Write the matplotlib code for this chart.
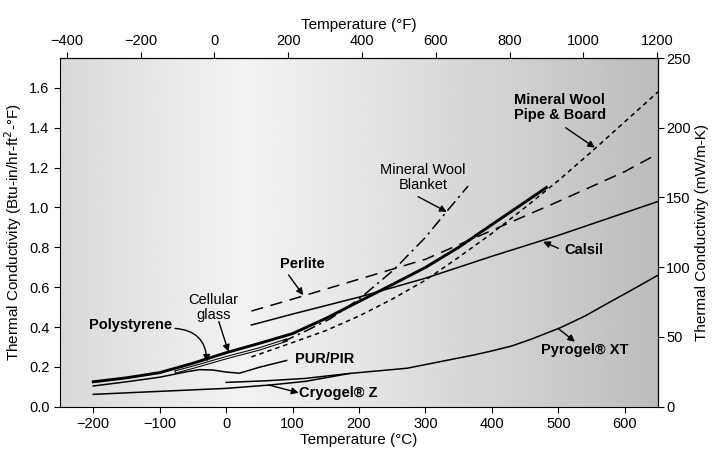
import numpy as np
import matplotlib.pyplot as plt

plt.rcParams['font.family'] = ['Liberation Sans', 'DejaVu Sans']

# temperatures in deg C, conductivity in Btu-in/hr-ft2-F
t_cellular = [-200, -150, -100, -50, 0, 50, 100, 150, 200, 250, 300, 350, 400, 450, 482]
k_cellular = [0.125, 0.145, 0.171, 0.218, 0.271, 0.318, 0.367, 0.443, 0.528, 0.613, 0.699, 0.80, 0.914, 1.027, 1.10]

t_polystyrene = [-75, -50, -25, 0, 25, 50, 90]
k_polystyrene = [0.176, 0.198, 0.222, 0.246, 0.268, 0.29, 0.333]

t_pur = [-200, -150, -100, -60, -40, -20, 0, 20, 50, 91]
k_pur = [0.104, 0.125, 0.148, 0.175, 0.186, 0.184, 0.174, 0.168, 0.198, 0.232]

t_cryogel = [-200, -114, 0, 66, 119, 186]
k_cryogel = [0.062, 0.075, 0.092, 0.109, 0.127, 0.167]

t_pyrogel = [0, 60, 119, 186, 272, 372, 400, 430, 460, 502, 540, 572, 610, 650]
k_pyrogel = [0.122, 0.130, 0.142, 0.167, 0.193, 0.259, 0.28, 0.305, 0.34, 0.395, 0.455, 0.515, 0.585, 0.66]

t_perlite = [38, 100, 200, 300, 400, 500, 600, 650]
k_perlite = [0.48, 0.54, 0.64, 0.74, 0.885, 1.03, 1.18, 1.27]

t_calsil = [38, 100, 200, 300, 400, 500, 650]
k_calsil = [0.41, 0.465, 0.55, 0.645, 0.755, 0.86, 1.03]

t_mw_pipe = [38, 100, 150, 200, 250, 300, 350, 400, 450, 500, 550, 600, 650]
k_mw_pipe = [0.25, 0.322, 0.382, 0.455, 0.54, 0.635, 0.75, 0.87, 1.0, 1.135, 1.28, 1.43, 1.58]

t_mw_blanket = [85, 120, 156, 200, 252, 300, 332, 364]
k_mw_blanket = [0.326, 0.38, 0.44, 0.54, 0.686, 0.85, 0.98, 1.107]

fig = plt.figure(figsize=(7.13, 4.5), dpi=100)
ax = fig.add_axes([0.0842, 0.0962, 0.8387, 0.7749])

# grey background shading
shade_x = [-250, -150, 25, 200, 400, 650]
shade_v = [0.85, 0.89, 0.95, 0.90, 0.83, 0.74]
xs = np.linspace(-250, 650, 400)
grad = np.interp(xs, shade_x, shade_v)[None, :]
ax.imshow(grad, extent=[-250, 650, 0, 1.75], aspect='auto', cmap='gray',
          vmin=0, vmax=1, zorder=0, interpolation='bilinear')

ax.plot(t_cellular, k_cellular, color='black', lw=2.1, zorder=3)
ax.plot(t_polystyrene, k_polystyrene, color='black', lw=2.4, zorder=3)
ax.plot(t_polystyrene, k_polystyrene, color='#e8e8e8', lw=0.9, zorder=3)
ax.plot(t_pur, k_pur, color='black', lw=1.1, zorder=3)
ax.plot(t_cryogel, k_cryogel, color='black', lw=1.1, zorder=3)
ax.plot(t_pyrogel, k_pyrogel, color='black', lw=1.1, zorder=3)
ax.plot(t_perlite, k_perlite, color='black', lw=1.1, ls=(0, (8, 5)), zorder=3)
ax.plot(t_calsil, k_calsil, color='black', lw=1.1, zorder=3)
ax.plot(t_mw_pipe, k_mw_pipe, color='black', lw=1.1, ls=(0, (3, 2.5)), zorder=3)
ax.plot(t_mw_blanket, k_mw_blanket, color='black', lw=1.1, ls=(0, (8, 3, 1.5, 3)), zorder=3)

ax.set_xlim(-250, 650)
ax.set_ylim(0, 1.75)
ax.set_xticks(np.arange(-200, 601, 100))
ax.set_xticklabels(['\u2212200', '\u2212100', '0', '100', '200', '300', '400', '500', '600'])
ax.set_yticks(np.arange(0, 1.61, 0.2))
ax.set_yticklabels(['%.1f' % v for v in np.arange(0, 1.61, 0.2)])
ax.tick_params(labelsize=10.5, length=4, direction='out')
ax.set_xlabel('Temperature (°C)', fontsize=11, labelpad=1)
ax.set_ylabel('Thermal Conductivity (Btu-in/hr-ft$^2$-°F)', fontsize=11, labelpad=4)

top = ax.secondary_xaxis('top', functions=(lambda c: c * 9 / 5 + 32, lambda f: (f - 32) * 5 / 9))
top.set_xticks(np.arange(-400, 1201, 200))
top.set_xticklabels(['\u2212400', '\u2212200', '0', '200', '400', '600', '800', '1000', '1200'])
top.tick_params(labelsize=10.5, length=4)
top.set_xlabel('Temperature (°F)', fontsize=11, labelpad=3)

right = ax.secondary_yaxis('right', functions=(lambda k: k * 250 / 1.75, lambda m: m * 1.75 / 250))
right.set_yticks(np.arange(0, 251, 50))
right.tick_params(labelsize=10.5, length=4, pad=2)
right.set_ylabel('Thermal Conductivity (mW/m-K)', fontsize=11, labelpad=3)

arrow = dict(arrowstyle='-|>', color='black', lw=1.0, mutation_scale=10, shrinkA=0, shrinkB=0)
bold = dict(fontsize=10.5, fontweight='bold', ha='center', va='center')
norm = dict(fontsize=10.5, ha='center', va='center')

ax.text(502, 1.50, 'Mineral Wool\nPipe & Board', linespacing=1.1, **bold)
ax.annotate('', xy=(555, 1.30), xytext=(511, 1.40), arrowprops=arrow)
ax.text(296, 1.152, 'Mineral Wool\nBlanket', linespacing=1.1, **norm)
ax.annotate('', xy=(332, 0.978), xytext=(289, 1.054), arrowprops=arrow)
ax.text(114, 0.716, 'Perlite', **bold)
ax.annotate('', xy=(116, 0.56), xytext=(94, 0.661), arrowprops=arrow)
ax.text(538, 0.786, 'Calsil', **bold)
ax.annotate('', xy=(477, 0.828), xytext=(500, 0.795), arrowprops=arrow)
ax.text(-19, 0.50, 'Cellular\nglass', linespacing=1.1, **norm)
ax.annotate('', xy=(3.5, 0.276), xytext=(-11, 0.427), arrowprops=arrow)
ax.text(-144, 0.41, 'Polystyrene', **bold)
ax.annotate('', xy=(-29, 0.226), xytext=(-77, 0.393),
            arrowprops=dict(arrow, connectionstyle='arc3,rad=-0.45'))
ax.text(104, 0.24, 'PUR/PIR', fontsize=10.5, fontweight='bold', ha='left', va='center')
ax.text(110, 0.067, 'Cryogel® Z', fontsize=10.5, fontweight='bold', ha='left', va='center')
ax.annotate('', xy=(109, 0.070), xytext=(64, 0.109), arrowprops=arrow)
ax.text(540, 0.285, 'Pyrogel® XT', **bold)
ax.annotate('', xy=(525, 0.326), xytext=(500, 0.392), arrowprops=arrow)

fig.savefig('out.png', dpi=100)
